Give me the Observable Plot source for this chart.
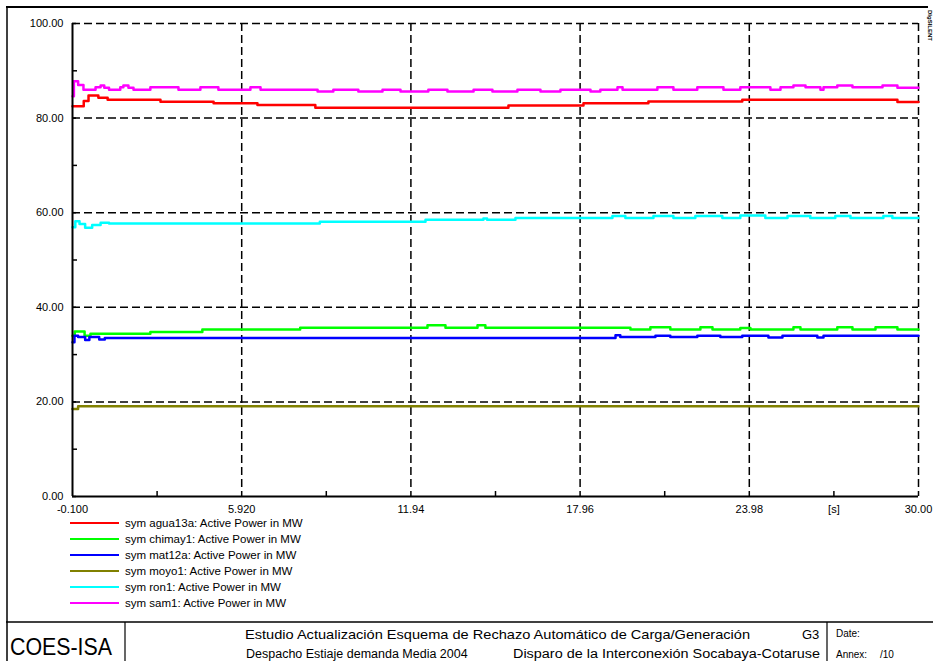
<!DOCTYPE html>
<html>
<head>
<meta charset="utf-8">
<script src="https://cdn.jsdelivr.net/npm/d3@7"></script>
<script src="https://cdn.jsdelivr.net/npm/@observablehq/plot@0.6"></script>
<style>
  body { margin: 0; background: #fff; font-family: "Liberation Sans", Arial, sans-serif; }
  #wrap { position: relative; width: 933px; height: 661px; overflow: hidden; }
  #chart { position: absolute; left: 0; top: 0; }
  #overlay { position: absolute; left: 0; top: 0; pointer-events: none; }
</style>
</head>
<body>
<div id="wrap"><div id="chart"></div><svg id="overlay" width="933" height="661"></svg></div>
<script>
// ---- data ----
const seriesNames = ["agua13a", "chimay1", "mat12a", "moyo1", "ron1", "sam1"];
const seriesLabels = [
  "sym agua13a: Active Power in MW",
  "sym chimay1: Active Power in MW",
  "sym mat12a: Active Power in MW",
  "sym moyo1: Active Power in MW",
  "sym ron1: Active Power in MW",
  "sym sam1: Active Power in MW"
];
const seriesColors = ["#ff0000", "#00ff00", "#0000ff", "#808000", "#00ffff", "#ff00ff"];

// time [s], active power [MW]
const agua13a = [[-0.1,82.5],[0.11,82.5],[0.3,83.6],[0.47,84.8],[0.82,84.3],[1.15,83.9],[3.03,83.45],[4.92,83.15],[6.48,82.75],[8.54,82.2],[15.41,82.65],[18.08,83.15],[20.39,83.5],[23.73,83.9],[29.25,83.4],[30,83.4]];
const chimay1 = [[-0.1,34.0],[-0.02,34.9],[0.2,34.9],[0.33,34.0],[0.54,34.4],[2.67,34.8],[4.52,35.3],[8.0,35.7],[12.53,36.2],[13.17,35.7],[14.31,36.2],[14.59,35.7],[19.75,35.3],[20.46,35.8],[21.17,35.3],[22.24,35.8],[22.67,35.3],[23.66,35.6],[24.02,35.3],[25.55,35.8],[25.8,35.3],[27.11,35.8],[27.65,35.3],[28.47,35.8],[29.25,35.3],[30,35.3]];
const mat12a = [[-0.1,32.6],[-0.03,34.0],[0.1,33.7],[0.35,33.1],[0.5,33.7],[0.85,33.2],[1.05,33.5],[19.22,34.1],[19.39,33.7],[20.64,34.0],[21.17,33.7],[22.13,34.0],[22.95,33.7],[23.73,34.0],[24.66,33.6],[25.16,34.0],[26.4,33.6],[26.62,34.0],[30,34.0]];
const moyo1 = [[-0.1,18.5],[0.1,19.1],[30,19.1]];
const ron1 = [[-0.1,56.9],[0.0,58.2],[0.15,57.6],[0.35,56.8],[0.6,57.4],[0.9,57.9],[1.2,57.7],[8.7,58.1],[12.46,58.5],[14.52,58.8],[14.65,58.5],[15.66,58.9],[19.11,59.3],[19.57,58.9],[20.57,59.3],[21.28,58.9],[22.06,59.3],[23.02,58.9],[23.66,59.4],[24.55,58.9],[25.34,59.3],[26.15,58.9],[27.04,59.3],[27.58,58.9],[28.75,59.3],[29.07,58.9],[30,58.9]];
const sam1 = [[-0.1,84.6],[-0.05,87.8],[0.1,87.0],[0.29,86.0],[0.72,86.5],[0.9,86.9],[1.03,86.4],[1.2,86.0],[1.6,86.5],[1.71,86.9],[1.89,86.4],[2.07,86.0],[2.67,86.5],[3.67,86.0],[4.45,86.5],[5.09,86.0],[6.23,86.5],[6.59,86.0],[8.62,85.6],[9.18,86.0],[10.07,85.6],[10.93,86.0],[11.57,85.6],[12.56,86.0],[13.24,85.6],[14.17,86.0],[14.84,85.6],[15.73,86.0],[16.55,85.6],[17.26,86.0],[18.33,85.6],[18.68,86.0],[19.29,86.5],[19.47,86.0],[20.71,86.5],[21.28,86.0],[22.13,86.5],[23.06,86.0],[23.66,86.5],[24.73,86.0],[25.09,86.5],[25.55,86.9],[25.98,86.5],[26.51,86.0],[26.62,86.5],[27.11,86.9],[27.65,86.5],[28.72,86.9],[29.25,86.4],[30,86.4]];
const seriesData = [agua13a, chimay1, mat12a, moyo1, ron1, sam1];

// axes
const xMajor = [-0.1, 5.92, 11.94, 17.96, 23.98, 30];
const xTickLabels = ["-0.100", "5.920", "11.94", "17.96", "23.98", "30.00"];
const xMinor = [2.91, 8.93, 14.95, 20.97, 26.99];
const xUnitAt = 26.99;
const xUnitLabel = "[s]";
const yMajor = [0, 20, 40, 60, 80, 100];
const yMinor = [10, 30, 50, 70, 90];

// title block texts
const companyText = "COES-ISA";
const titleLine1 = "Estudio Actualización Esquema de Rechazo Automático de Carga/Generación";
const titleLine2a = "Despacho Estiaje demanda Media 2004";
const titleLine2b = "Disparo de la Interconexión Socabaya-Cotaruse";
const graphId = "G3";
const dateLabel = "Date:";
const annexLabel = "Annex:";
const annexValue = "/10";
const logoText = "DIgSILENT";

// ---- chart ----
const xLabelMap = new Map(xMajor.map((d, i) => [d, xTickLabels[i]]));
const rows = seriesData.map((arr, k) => arr.map(([t, v]) => ({t, v, name: seriesNames[k]})));
const dash = {stroke: "#000", strokeWidth: 1.5, strokeDasharray: "8,4"};

const chart = Plot.plot({
  width: 933,
  height: 661,
  marginLeft: 72,
  marginRight: 15,
  marginTop: 23,
  marginBottom: 165,
  x: {domain: [xMajor[0], xMajor[xMajor.length - 1]], axis: null},
  y: {domain: [yMajor[0], yMajor[yMajor.length - 1]], axis: null},
  style: {fontFamily: "'Liberation Sans', Arial, sans-serif", fontSize: "11px", background: "transparent", color: "#000", overflow: "visible"},
  marks: [
    Plot.ruleY(yMajor.slice(1), dash),
    Plot.ruleX(xMajor.slice(1), dash),
    ...rows.map((r, k) => Plot.line(r, {x: "t", y: "v", stroke: seriesColors[k], strokeWidth: 2.5, curve: "step-after"})),
    Plot.ruleX([xMajor[0]], {stroke: "#000", strokeWidth: 2}),
    Plot.ruleY([yMajor[0]], {stroke: "#000", strokeWidth: 2}),
    Plot.axisY(yMajor, {tickSize: -4, tickPadding: 13, strokeWidth: 1.5, tickFormat: d => d.toFixed(2), label: null}),
    Plot.axisY(yMinor, {tickSize: -5, strokeWidth: 1.5, fill: "none", label: null}),
    Plot.axisX(xMajor, {tickSize: 0, tickPadding: 9, tickFormat: d => xLabelMap.get(d), label: null}),
    Plot.axisX(xMinor, {tickSize: -5, strokeWidth: 1.5, fill: "none", label: null}),
    Plot.axisX([xUnitAt], {tickSize: 0, tickPadding: 9, tickFormat: () => xUnitLabel, label: null})
  ]
});
document.getElementById("chart").appendChild(chart);

// ---- legend, frame and title block ----
const ov = d3.select("#overlay").attr("font-family", "'Liberation Sans', Arial, sans-serif");
const legend = ov.append("g");
seriesLabels.forEach((lab, i) => {
  const y = 523 + i * 16;
  legend.append("line").attr("x1", 70).attr("x2", 119).attr("y1", y).attr("y2", y)
    .attr("stroke", seriesColors[i]).attr("stroke-width", 2);
  legend.append("text").attr("x", 125).attr("y", y).attr("dy", "0.35em")
    .attr("font-size", 11.5).text(lab);
});

const frame = ov.append("g").attr("stroke", "#000").attr("fill", "none");
frame.append("line").attr("x1", 6).attr("x2", 928).attr("y1", 7).attr("y2", 7).attr("stroke-width", 2);
frame.append("line").attr("x1", 7).attr("x2", 7).attr("y1", 6).attr("y2", 661).attr("stroke-width", 1.5);
frame.append("line").attr("x1", 6).attr("x2", 933).attr("y1", 622).attr("y2", 622).attr("stroke-width", 1.5);
frame.append("line").attr("x1", 125).attr("x2", 125).attr("y1", 622).attr("y2", 661).attr("stroke-width", 1.2);
frame.append("line").attr("x1", 827).attr("x2", 827).attr("y1", 622).attr("y2", 661).attr("stroke-width", 1.2);

const tb = ov.append("g").attr("fill", "#000");
tb.append("text").attr("x", 10).attr("y", 655).attr("font-size", 24)
  .attr("textLength", 102).attr("lengthAdjust", "spacingAndGlyphs").text(companyText);
tb.append("text").attr("x", 245).attr("y", 639).attr("font-size", 13)
  .attr("textLength", 505).attr("lengthAdjust", "spacingAndGlyphs").text(titleLine1);
tb.append("text").attr("x", 802).attr("y", 639).attr("font-size", 13).text(graphId);
tb.append("text").attr("x", 246).attr("y", 658).attr("font-size", 12.5).text(titleLine2a);
tb.append("text").attr("x", 513).attr("y", 658).attr("font-size", 12.5)
  .attr("textLength", 307).attr("lengthAdjust", "spacingAndGlyphs").text(titleLine2b);
tb.append("text").attr("x", 836).attr("y", 637).attr("font-size", 10).text(dateLabel);
tb.append("text").attr("x", 836).attr("y", 658).attr("font-size", 10).text(annexLabel);
tb.append("text").attr("x", 880).attr("y", 658).attr("font-size", 10).text(annexValue);
tb.append("text").attr("transform", "translate(928,10) rotate(90)").attr("font-size", 6)
  .attr("font-weight", "bold").text(logoText);
</script>
</body>
</html>
